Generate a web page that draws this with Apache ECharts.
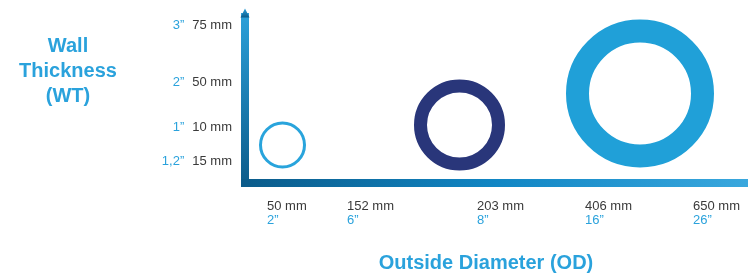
<!DOCTYPE html>
<html>
<head>
<meta charset="utf-8">
<script src="https://cdn.jsdelivr.net/npm/echarts@6/dist/echarts.min.js"></script>
<style>
  html, body { margin: 0; padding: 0; background: #fff; }
  #chart_1 { width: 748px; height: 275px; }
</style>
</head>
<body>
<div id="chart_1"></div>
<script>
// tick positions along the axes (drawing units) and their texts
var xTickPos = [22, 102, 232, 340, 448];
var xTickMm = ['50 mm', '152 mm', '203 mm', '406 mm', '650 mm'];
var xTickIn = ['2\u201D', '6\u201D', '8\u201D', '16\u201D', '26\u201D'];

var yTickPos = [21, 55, 100, 157];
var yTickMm = ['15 mm', '10 mm', '50 mm', '75 mm'];
var yTickIn = ['1,2\u201D', '1\u201D', '2\u201D', '3\u201D'];

// the three rings: centre, outer diameter, wall
var ringX = [37.5, 214.5, 395];
var ringY = [37.5, 57.5, 89];
var ringOD = [47, 91, 148];
var ringWT = [3, 13, 23];

var ringColors = ['#29a4dc', '#29367a', '#20a0d8'];
var FONT = '"Liberation Sans", Arial, Helvetica, sans-serif';
var BLUE = '#2aa2dc';
var GREY = '#3a3a3a';

function initChart(){
    var myChart1 = echarts.init(document.getElementById('chart_1'), null, {renderer: 'canvas'});

    var rings = [];
    for (var i = 0; i < ringX.length; i++) {
        rings.push({
            value: [ringX[i], ringY[i]],
            symbolSize: ringOD[i] - ringWT[i],
            itemStyle: {
                color: 'rgba(0,0,0,0)',
                borderColor: ringColors[i],
                borderWidth: ringWT[i],
                opacity: 1
            }
        });
    }

    var option1 = {
        animation: false,
        title: [
            {
                text: 'Wall\nThickness\n(WT)',
                left: 68, top: 34, padding: 0,
                textAlign: 'center',
                textStyle: {color: BLUE, fontFamily: FONT, fontWeight: 'bold', fontSize: 20, lineHeight: 25}
            },
            {
                text: 'Outside Diameter (OD)',
                left: 486, top: 251, padding: 0,
                textAlign: 'center',
                textStyle: {color: BLUE, fontFamily: FONT, fontWeight: 'bold', fontSize: 20, lineHeight: 24}
            }
        ],
        grid: {left: 245, right: 0, top: 13, bottom: 92.5},
        xAxis: {
            type: 'value', min: 0, max: 503,
            axisLine: {
                show: true,
                lineStyle: {
                    width: 8, cap: 'square',
                    color: new echarts.graphic.LinearGradient(0, 0, 1, 0, [
                        {offset: 0, color: '#0b5b8a'},
                        {offset: 0.5, color: '#1186c4'},
                        {offset: 1, color: '#3aa8de'}
                    ])
                }
            },
            axisTick: {show: false},
            splitLine: {show: false},
            axisLabel: {
                customValues: xTickPos,
                align: 'left',
                margin: 17,
                formatter: function(v){
                    var k = xTickPos.indexOf(v);
                    return '{m|' + xTickMm[k] + '}\n{i|' + xTickIn[k] + '}';
                },
                rich: {
                    m: {color: GREY, fontFamily: FONT, fontSize: 13, lineHeight: 14},
                    i: {color: BLUE, fontFamily: FONT, fontSize: 13, lineHeight: 14}
                }
            }
        },
        yAxis: {
            type: 'value', min: 0, max: 169.5,
            axisLine: {
                show: true,
                symbol: ['none', 'triangle'],
                symbolSize: [9, 9],
                lineStyle: {
                    width: 8, cap: 'butt',
                    color: new echarts.graphic.LinearGradient(0, 0, 0, 1, [
                        {offset: 0, color: '#2da2db'},
                        {offset: 1, color: '#0b5b8a'}
                    ])
                }
            },
            axisTick: {show: false},
            splitLine: {show: false},
            axisLabel: {
                customValues: yTickPos,
                margin: 13,
                formatter: function(v){
                    var k = yTickPos.indexOf(v);
                    return '{i|' + yTickIn[k] + '}{m|' + yTickMm[k] + '}';
                },
                rich: {
                    m: {color: GREY, fontFamily: FONT, fontSize: 13},
                    i: {color: BLUE, fontFamily: FONT, fontSize: 13, padding: [0, 8, 0, 0]}
                }
            }
        },
        series: [
            {
                type: 'scatter',
                symbol: 'circle',
                silent: true,
                itemStyle: {opacity: 1},
                data: rings
            }
        ]
    };
    myChart1.setOption(option1);
}
initChart();
</script>
</body>
</html>
